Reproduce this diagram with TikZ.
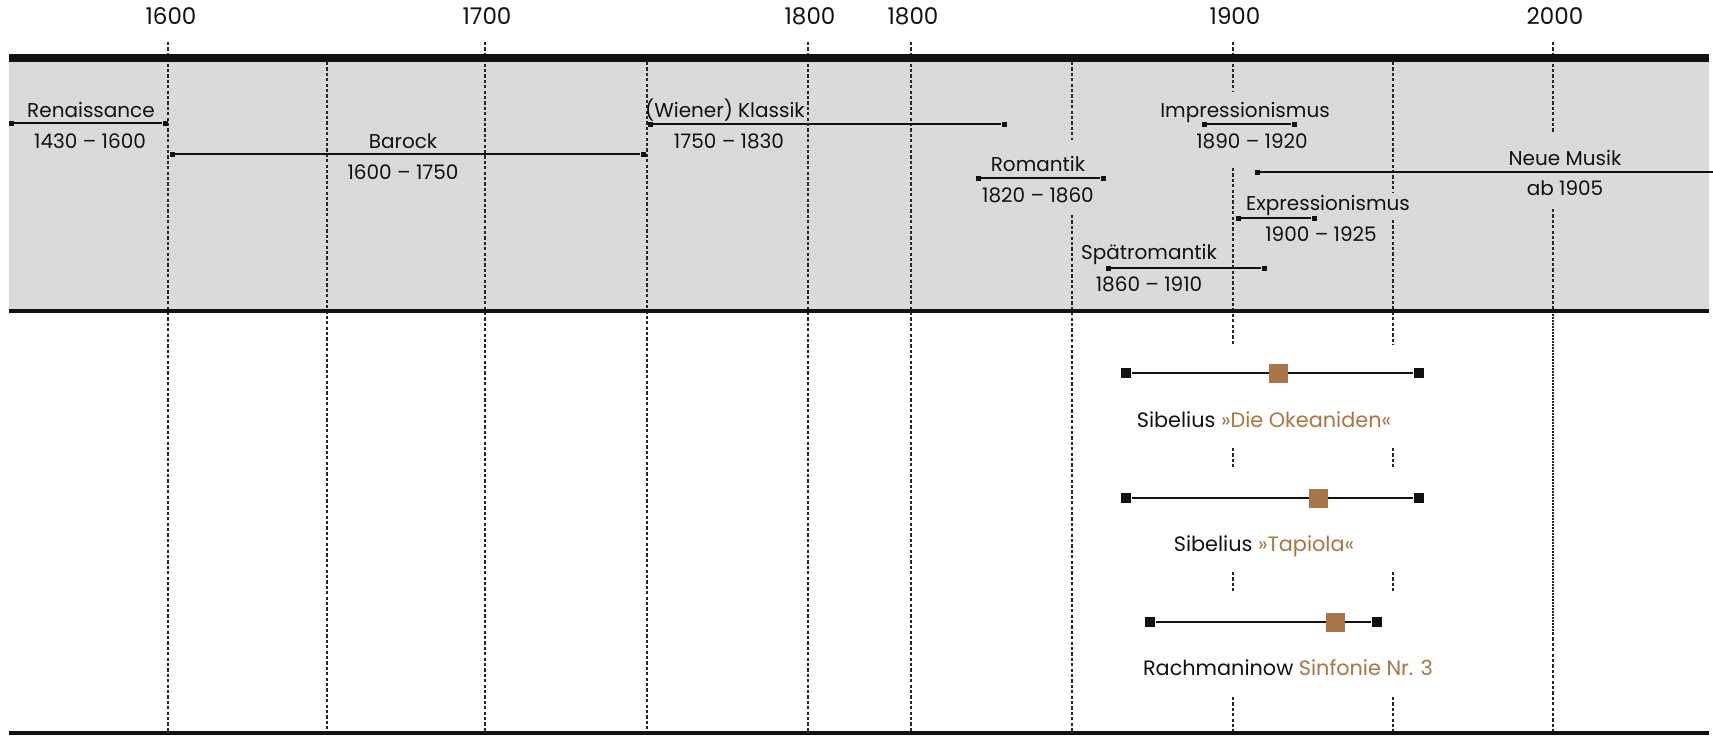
\documentclass[tikz,border=0pt]{standalone}
\usepackage{fontspec}
\setmainfont{Poppins}
\definecolor{bandgrau}{HTML}{D9DADC}
\definecolor{werkfarbe}{HTML}{A97447}
\definecolor{schrift}{HTML}{111111}
\newcommand\werk[1]{\textcolor{werkfarbe}{#1}}
\tikzset{raster/.style={dash pattern=on 1.6pt off 1.1pt,line width=.6pt,color=black!85},
        epoche/.style={line width=.6pt},
        werkzeit/.style={line width=1pt}}

\begin{document}
\begin{tikzpicture}[x=.5pt,y=-.5pt,color=schrift]%
        %\draw[step=100,color=gray,very thin] (0,0) grid (1713,735);%%
        \useasboundingbox (0,0) rectangle (1713,735); %%
        \fill[bandgrau] (9,62) rectangle (1709,309); %%
        % Jahreslinien
        \draw[raster] (168,42)--(168,732); %% 1600
        \draw[raster] (327,62)--(327,732); %% 1650
        \draw[raster] (485,42)--(485,732); %% 1700
        \draw[raster] (647,62)--(647,732); %% 1750
        \draw[raster] (808,42)--(808,732); %% 1800
        \draw[raster] (911,42)--(911,732); %% 1800
        \draw[raster] (1072,62)--(1072,140) (1072,215)--(1072,732); %% 1850
        \draw[raster] (1233,42)--(1233,92) (1233,168)--(1233,345) (1233,448)--(1233,467) (1233,572)--(1233,592) (1233,697)--(1233,732); %% 1900
        \draw[raster] (1393,62)--(1393,192) (1393,220)--(1393,345) (1393,448)--(1393,467) (1393,572)--(1393,592) (1393,697)--(1393,732); %% 1950
        \draw[raster] (1553,42)--(1553,133) (1553,209)--(1553,311) (1553,632)--(1553,732); %% 2000
        \draw[raster,dash pattern=on 1.2pt off .3pt] (1553,311)--(1553,632); %%
        \draw[line width=4pt] (9,58)--(1709,58); %%
        \draw[line width=2pt] (9,311)--(1709,311); %%
        \draw[line width=2pt] (9,733)--(1709,733); %%
        \begin{scope}
        \tikzstyle{every node}=[anchor=base,inner sep=0,font=\fontsize{11.5}{13}\selectfont] %%
        \node (j1600) at (171,24) {1600}; %%
        \node (j1700) at (487,24) {1700}; %%
        \node (j1800) at (810,24) {1800}; %%
        \node (j1800b) at (913,24) {1800}; %%
        \node (j1900) at (1235,24) {1900}; %%
        \node (j2000) at (1555,24) {2000}; %%
        \end{scope}
        \begin{scope}
        \tikzstyle{every node}=[fill,inner sep=0,minimum size=2.5pt] %%
        \node (ren1) at (11,123) {}; \node (ren2) at (165,123) {}; %%
        \node (bar1) at (172,154) {}; \node (bar2) at (643,154) {}; %%
        \node (kla1) at (650,124) {}; \node (kla2) at (1004,124) {}; %%
        \node (rom1) at (978,178) {}; \node (rom2) at (1103,178) {}; %%
        \node (spr1) at (1108,268) {}; \node (spr2) at (1264,268) {}; %%
        \node (imp1) at (1204,124) {}; \node (imp2) at (1294,124) {}; %%
        \node (neu1) at (1257,172) {}; \coordinate (neu2) at (1713,172); %%
        \node (exp1) at (1238,218) {}; \node (exp2) at (1314,218) {}; %%
        \end{scope}
        \draw[epoche] (ren1)--(ren2); %%
        \draw[epoche] (bar1)--(bar2); %%
        \draw[epoche] (kla1)--(kla2); %%
        \draw[epoche] (rom1)--(rom2); %%
        \draw[epoche] (spr1)--(spr2); %%
        \draw[epoche] (imp1)--(imp2); %%
        \draw[epoche] (neu1)--(neu2); %%
        \draw[epoche] (exp1)--(exp2); %%
        \begin{scope}
        \tikzstyle{every node}=[anchor=base,inner sep=0,font=\fontsize{10}{12}\selectfont] %%
        \node (renT) at (91,117) {Renaissance}; %%
        \node (renD) at (90,148) {1430 – 1600}; %%
        \node (barT) at (403,148) {Barock}; %%
        \node (barD) at (403,179) {1600 – 1750}; %%
        \node (klaT) at (725,117) {(Wiener) Klassik}; %%
        \node (klaD) at (729,148) {1750 – 1830}; %%
        \node (romT) at (1038,171) {Romantik}; %%
        \node (romD) at (1038,202) {1820 – 1860}; %%
        \node (sprT) at (1149,259) {Spätromantik}; %%
        \node (sprD) at (1149,291) {1860 – 1910}; %%
        \node (impT) at (1245,117) {Impressionismus}; %%
        \node (impD) at (1252,148) {1890 – 1920}; %%
        \node (neuT) at (1565,165) {Neue Musik}; %%
        \node (neuD) at (1565,195) {ab 1905}; %%
        \node (expT) at (1328,210) {Expressionismus}; %%
        \node (expD) at (1321,241) {1900 – 1925}; %%
        \end{scope}
        % Werke
        \begin{scope}
        \tikzstyle{every node}=[fill,inner sep=0,minimum size=5.2pt] %%
        \node (oke1) at (1126,373) {}; \node (oke2) at (1419,373) {}; %%
        \node (tap1) at (1126,498) {}; \node (tap2) at (1419,498) {}; %%
        \node (rac1) at (1150,622) {}; \node (rac2) at (1377,622) {}; %%
        \end{scope}
        \draw[werkzeit] (oke1)--(oke2); %%
        \draw[werkzeit] (tap1)--(tap2); %%
        \draw[werkzeit] (rac1)--(rac2); %%
        \begin{scope}
        \tikzstyle{every node}=[fill=werkfarbe,inner sep=0,minimum size=9.5pt] %%
        \node (okeW) at (1278,373) {}; %%
        \node (tapW) at (1318,498) {}; %%
        \node (racW) at (1335,622) {}; %%
        \end{scope}
        \begin{scope}
        \tikzstyle{every node}=[anchor=base,inner sep=0,font=\fontsize{10.4}{12.5}\selectfont] %%
        \node (okeT) at (1264,427) {Sibelius \werk{»Die Okeaniden«}}; %%
        \node (tapT) at (1264,551) {Sibelius \werk{»Tapiola«}}; %%
        \node (racT) at (1288,675) {Rachmaninow \werk{Sinfonie Nr. 3}}; %%
        \end{scope}
\end{tikzpicture}
\end{document}
